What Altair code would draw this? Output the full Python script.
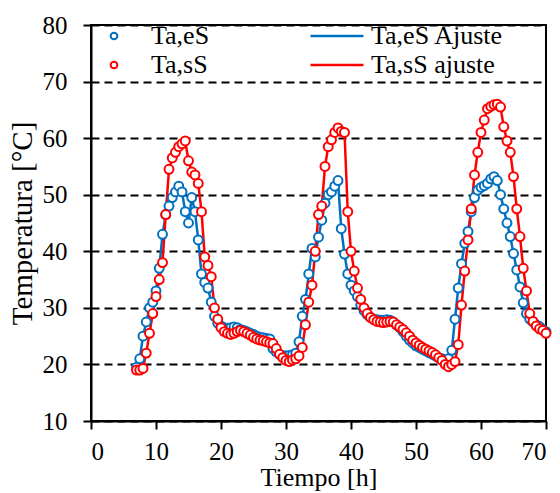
import altair as alt
import pandas as pd

# Tiempo [h]
tiempo = [7.0, 7.5, 8.0, 8.5, 9.0, 9.5, 10.0, 10.5, 11.0, 11.5, 12.0, 12.5, 13.0, 13.5,
          14.0, 14.5, 15.0, 15.5, 16.0, 16.5, 17.0, 17.5, 18.0, 18.5, 19.0, 19.5,
          20.0, 20.5, 21.0, 21.5, 22.0, 22.5, 23.0, 23.5, 24.0, 24.5, 25.0, 25.5,
          26.0, 26.5, 27.0, 27.5, 28.0, 28.5, 29.0, 29.5,
          30.0, 30.5, 31.0, 31.5, 32.0, 32.5, 33.0, 33.5, 34.0, 34.5, 35.0, 35.5,
          36.0, 36.5, 37.0, 37.5, 38.0, 38.5, 39.0, 39.5,
          40.0, 40.5, 41.0, 41.5, 42.0, 42.5, 43.0, 43.5, 44.0, 44.5, 45.0, 45.5,
          46.0, 46.5, 47.0, 47.5, 48.0, 48.5, 49.0, 49.5,
          50.0, 50.5, 51.0, 51.5, 52.0, 52.5, 53.0, 53.5, 54.0, 54.5, 55.0, 55.5,
          56.0, 56.5, 57.0, 57.5, 58.0, 58.5, 59.0, 59.5,
          60.0, 60.5, 61.0, 61.5, 62.0, 62.5, 63.0, 63.5, 64.0, 64.5, 65.0, 65.5,
          66.0, 66.5, 67.0, 67.5, 68.0, 68.5, 69.0, 69.5, 70.0]

# Ta,eS (blue)
ta_es = [19.5, 21.0, 25.0, 27.5, 30.0, 31.0, 33.0, 37.0, 43.0, 46.5, 48.0, 49.5, 50.5, 51.5,
         50.5, 47.0, 45.0, 49.5, 47.0, 42.0, 36.0, 34.5, 33.5, 31.0, 28.5, 27.3,
         26.8, 26.5, 26.4, 26.5, 26.6, 26.5, 26.2, 26.0, 25.8, 25.5, 25.3, 25.0,
         24.8, 24.7, 24.6, 24.5, 22.8, 22.2, 21.8, 21.6,
         21.5, 21.6, 21.7, 22.0, 24.0, 28.5, 31.5, 36.0, 40.5, 39.0, 42.5, 45.5,
         48.5, 50.0, 50.5, 51.5, 52.5, 44.0, 39.5, 36.0,
         34.0, 33.0, 32.0, 30.5, 29.5, 28.8, 28.3, 28.0, 27.9, 27.8, 27.8, 27.9,
         27.8, 27.5, 27.0, 26.5, 25.8, 25.0, 24.3, 23.8,
         23.3, 23.0, 22.7, 22.4, 22.1, 21.8, 21.5, 21.2, 21.0, 20.7, 21.0, 22.5,
         28.0, 33.5, 37.8, 41.4, 43.5, 47.0, 49.5, 50.8,
         51.3, 51.6, 52.0, 52.8, 53.2, 52.5, 50.0, 47.5, 45.0, 42.6, 39.6, 36.7,
         33.7, 30.9, 29.0, 28.0, 27.5, 27.0, 26.7, 26.2, 25.8]

# Ta,sS (red)
ta_ss = [19.0, 19.0, 19.3, 22.0, 25.5, 29.0, 32.0, 35.0, 38.0, 46.5, 54.5, 56.5, 57.5, 58.5,
         59.0, 59.5, 56.0, 54.0, 53.5, 52.0, 47.0, 39.0, 37.5, 35.5, 30.0, 28.0,
         26.5, 25.8, 25.5, 25.3, 25.5, 25.8, 26.0, 25.8, 25.5, 25.2, 24.8, 24.5,
         24.3, 24.2, 24.0, 23.8, 23.7, 22.8, 21.8, 21.2,
         20.7, 20.5, 20.8, 21.0, 21.5, 23.0, 27.0, 31.0, 34.0, 40.0, 46.5, 48.0,
         55.0, 58.5, 59.7, 61.0, 61.8, 61.2, 61.0, 47.0,
         40.0, 36.5, 33.5, 31.5, 30.0, 29.0, 28.3, 27.9, 27.6, 27.5, 27.4, 27.5,
         27.6, 27.5, 27.0, 26.6, 26.2, 25.6, 25.0, 24.3,
         23.8, 23.4, 23.0, 22.7, 22.4, 22.1, 21.7, 21.2, 20.7, 20.0, 19.6, 20.0,
         20.5, 23.5, 30.5, 36.5, 42.0, 47.5, 53.5, 57.5,
         61.0, 63.2, 65.2, 65.6, 65.9, 66.0, 65.5, 62.0, 59.5, 57.5, 53.2, 47.5,
         42.6, 37.0, 33.0, 29.0, 27.6, 26.8, 26.3, 26.0, 25.5]

point_series = ["Ta,eS", "Ta,sS"]
line_series = ["Ta,eS Ajuste", "Ta,sS ajuste"]
colors = ["#0070C0", "#FF0000"]

x_ticks = [0, 10, 20, 30, 40, 50, 60, 70]
y_ticks = [10, 20, 30, 40, 50, 60, 70, 80]

FONT = "Times New Roman"

pts = pd.DataFrame({
    "t": tiempo + tiempo,
    "T": ta_es + ta_ss,
    "serie": [point_series[0]] * len(tiempo) + [point_series[1]] * len(tiempo),
})
lns = pd.DataFrame({
    "t": tiempo + tiempo,
    "T": ta_es + ta_ss,
    "serie": [line_series[0]] * len(tiempo) + [line_series[1]] * len(tiempo),
})

x_enc = alt.X("t:Q", scale=alt.Scale(domain=[0, 70], nice=False),
              axis=alt.Axis(values=x_ticks, title="Tiempo [h]", grid=False,
                            labelFont=FONT, titleFont=FONT,
                            labelFontSize=25, titleFontSize=26,
                            labelPadding=10, titlePadding=0))
y_enc = alt.Y("T:Q", scale=alt.Scale(domain=[10, 80], nice=False),
              axis=alt.Axis(values=y_ticks, title="Temperatura [°C]", grid=True,
                            labelFont=FONT, titleFont=FONT,
                            gridDash=[8, 5], gridColor="black", gridWidth=1.8,
                            labelFontSize=25, titleFontSize=29,
                            labelPadding=16, titlePadding=5))

lines = alt.Chart(lns).mark_line(strokeWidth=2.5).encode(
    x=x_enc, y=y_enc,
    stroke=alt.Stroke("serie:N", scale=alt.Scale(domain=line_series, range=colors),
                      legend=alt.Legend(title=None, orient="none", legendX=218, legendY=0,
                                        symbolType="stroke", symbolSize=2809,
                                        symbolStrokeWidth=2.5, labelOffset=6,
                                        labelFontSize=26, labelFont=FONT,
                                        labelLimit=400,
                                        clipHeight=22, rowPadding=3, padding=0)),
    detail="serie:N",
)

points = alt.Chart(pts).mark_point(filled=False, fill="white", fillOpacity=1, opacity=1,
                                   size=80, strokeWidth=2).encode(
    x=x_enc, y=y_enc,
    color=alt.Color("serie:N", scale=alt.Scale(domain=point_series, range=colors),
                    legend=alt.Legend(title=None, orient="none", legendX=10, legendY=0,
                                      symbolType="circle", symbolSize=45,
                                      symbolStrokeWidth=2, symbolFillColor="white",
                                      labelOffset=24, labelFontSize=26, labelFont=FONT,
                                      labelLimit=400, clipHeight=22, rowPadding=3,
                                      padding=0)),
)

chart = alt.layer(lines, points).properties(
    width=455, height=396,
    autosize=alt.AutoSizeParams(type="none"),
    padding={"left": 91, "top": 25, "right": 14, "bottom": 72},
    background="white",
).configure_view(
    stroke="black", strokeWidth=2
).configure_axis(
    labelColor="black", titleColor="black",
    titleFontWeight="normal", domainColor="black", domainWidth=2,
    tickColor="black", tickWidth=2, tickSize=8,
).configure_legend(
    labelColor="black"
)

chart.save("out.html", embed_options={"renderer": "svg", "actions": False})
